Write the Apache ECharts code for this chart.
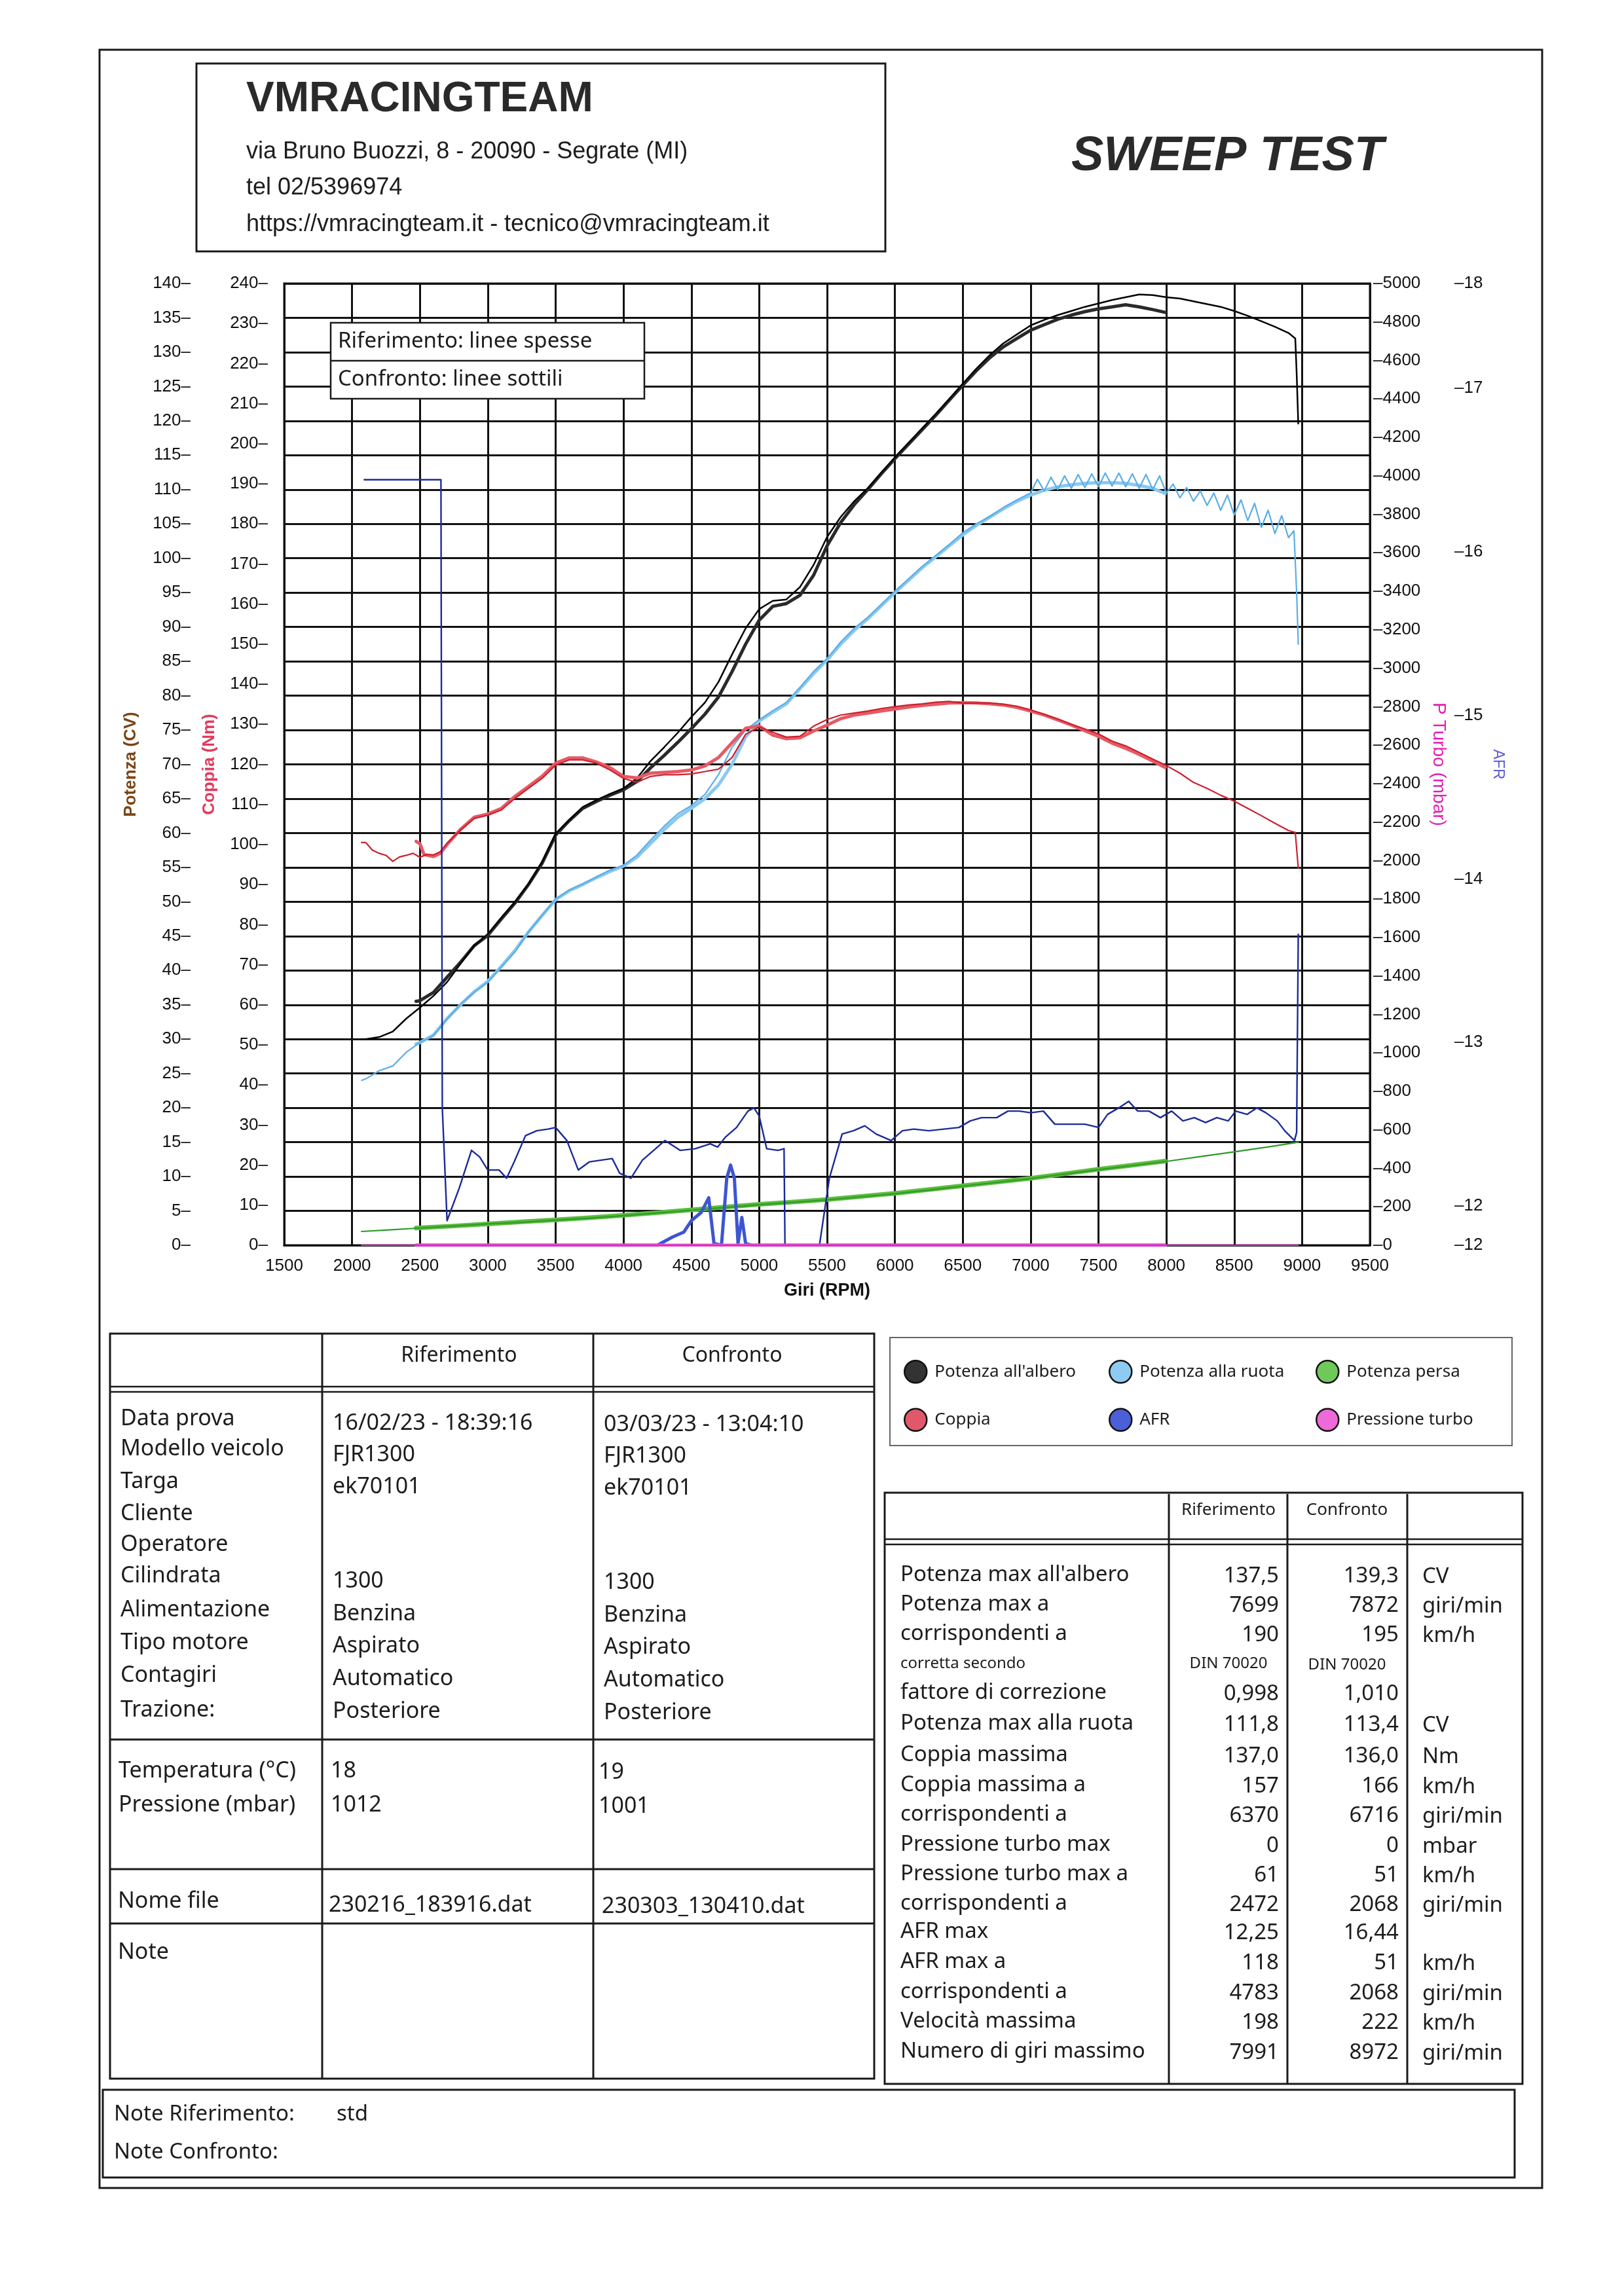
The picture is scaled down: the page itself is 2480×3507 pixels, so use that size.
<!DOCTYPE html>
<html><head><meta charset="utf-8">
<script src="https://cdn.jsdelivr.net/npm/echarts@6/dist/echarts.min.js"></script>
<style>html,body{margin:0;padding:0;background:#fff}#c{width:2480px;height:3507px}</style>
</head><body><div id="c"></div>
<script>
// ---------------- DATA ----------------
const rpmTicks = [1500,2000,2500,3000,3500,4000,4500,5000,5500,6000,6500,7000,7500,8000,8500,9000,9500];
const afrTickValues = [11.76,12,13,14,15,16,17,17.64];

// Potenza all'albero (CV)
const alberoConf = [[2070,30.0],[2100,30.0],[2200,30.3],[2300,31.1],[2400,33.0],[2500,34.6],[2600,36.3],[2700,38.3],[2800,41.0],[2900,43.6],[3000,45.3],[3100,47.7],[3200,50.0],[3300,52.6],[3400,55.8],[3500,59.9],[3600,61.9],[3700,63.8],[3800,64.8],[3900,65.7],[4000,66.5],[4100,68.0],[4200,70.5],[4300,72.5],[4400,74.6],[4500,76.9],[4600,79.0],[4700,82.0],[4800,86.0],[4900,89.8],[5000,92.6],[5100,93.8],[5200,94.0],[5300,95.8],[5400,99.0],[5500,103.1],[5600,106.0],[5700,108.3],[5800,110.2],[5900,112.5],[6000,114.7],[6100,116.8],[6200,118.9],[6300,121.0],[6400,123.2],[6500,125.4],[6600,127.6],[6700,129.6],[6800,131.3],[6900,132.6],[7000,133.9],[7100,134.7],[7200,135.4],[7300,136.0],[7400,136.6],[7500,137.1],[7600,137.6],[7700,138.0],[7800,138.4],[7900,138.3],[8000,138.0],[8100,137.8],[8200,137.4],[8300,137.0],[8400,136.6],[8500,136.0],[8600,135.3],[8700,134.5],[8800,133.7],[8900,132.8],[8950,132.0],[8960,127.0],[8972,119.6]];
const alberoRif = [[2472,35.5],[2500,35.6],[2600,36.8],[2700,39.0],[2800,41.2],[2900,43.6],[3000,45.1],[3100,47.5],[3200,49.8],[3300,52.5],[3400,55.6],[3500,59.7],[3600,61.8],[3700,63.6],[3800,64.6],[3900,65.5],[4000,66.3],[4100,67.5],[4200,69.5],[4300,71.3],[4400,73.2],[4500,75.2],[4600,77.3],[4700,79.8],[4800,83.5],[4900,87.5],[5000,91.0],[5100,93.0],[5200,93.4],[5300,94.6],[5400,97.5],[5500,101.8],[5600,105.2],[5700,107.8],[5800,110.0],[5900,112.3],[6000,114.5],[6100,116.6],[6200,118.7],[6300,120.8],[6400,123.0],[6500,125.2],[6600,127.3],[6700,129.2],[6800,130.8],[6900,132.0],[7000,133.2],[7100,134.0],[7200,134.8],[7300,135.4],[7400,135.9],[7500,136.3],[7600,136.6],[7700,136.9],[7800,136.6],[7900,136.2],[7991,135.8]];

// Potenza alla ruota (CV)
const ruotaConf = [[2070,24.0],[2100,24.2],[2200,25.4],[2300,26.1],[2400,28.1],[2500,29.5],[2600,30.5],[2700,32.9],[2800,35.1],[2900,36.8],[3000,38.3],[3100,40.5],[3200,42.7],[3300,45.6],[3400,48.0],[3500,50.4],[3600,51.7],[3700,52.6],[3800,53.6],[3900,54.6],[4000,55.3],[4100,56.8],[4200,59.0],[4300,61.0],[4400,62.8],[4500,64.0],[4600,65.6],[4700,68.5],[4800,72.5],[4900,75.0],[5000,76.5],[5100,77.8],[5200,79.0],[5300,81.2],[5400,83.5],[5500,85.4],[5600,87.8],[5700,89.8],[5800,91.4],[5900,93.3],[6000,95.2],[6100,97.0],[6200,98.8],[6300,100.4],[6400,102.0],[6500,103.7],[6600,105.0],[6700,106.1],[6800,107.4],[6900,108.5],[7000,109.5],[7050,111.5],[7100,109.8],[7150,111.8],[7200,110.0],[7250,112.0],[7300,110.2],[7350,112.2],[7400,110.3],[7450,112.3],[7500,110.4],[7550,112.4],[7600,110.5],[7650,112.4],[7700,110.4],[7750,112.3],[7800,110.2],[7850,112.2],[7900,110.0],[7950,112.0],[8000,109.5],[8050,110.8],[8100,108.8],[8150,110.3],[8200,108.3],[8250,109.8],[8300,107.7],[8350,109.5],[8400,107.0],[8450,109.2],[8500,106.3],[8550,108.5],[8600,105.5],[8650,108.0],[8700,104.5],[8750,107.0],[8800,103.6],[8850,106.2],[8900,103.0],[8940,104.0],[8960,95.0],[8972,87.5]];
const ruotaRif = [[2472,29.3],[2500,29.5],[2600,30.6],[2700,33.0],[2800,35.0],[2900,36.9],[3000,38.4],[3100,40.6],[3200,42.9],[3300,45.6],[3400,48.0],[3500,50.3],[3600,51.6],[3700,52.5],[3800,53.5],[3900,54.4],[4000,55.2],[4100,56.5],[4200,58.5],[4300,60.5],[4400,62.3],[4500,63.6],[4600,65.0],[4700,67.0],[4800,70.0],[4900,74.0],[5000,76.3],[5100,77.6],[5200,78.8],[5300,81.0],[5400,83.2],[5500,85.2],[5600,87.5],[5700,89.5],[5800,91.2],[5900,93.1],[6000,95.0],[6100,96.8],[6200,98.6],[6300,100.2],[6400,101.8],[6500,103.4],[6600,104.8],[6700,106.0],[6800,107.2],[6900,108.3],[7000,109.2],[7100,109.9],[7200,110.4],[7300,110.7],[7400,110.9],[7500,111.0],[7600,111.0],[7700,110.9],[7800,110.6],[7900,110.2],[7991,109.4]];

// Potenza persa (CV)
const persaConf = [[2070,2.0],[2250,2.2],[2500,2.5],[2750,2.8],[3000,3.1],[3250,3.35],[3500,3.65],[3750,3.95],[4000,4.3],[4250,4.7],[4500,5.1],[4750,5.5],[5000,5.9],[5250,6.25],[5500,6.6],[5750,7.05],[6000,7.5],[6250,8.05],[6500,8.6],[6750,9.15],[7000,9.7],[7250,10.35],[7500,11.0],[7750,11.6],[8000,12.2],[8250,12.9],[8500,13.6],[8750,14.3],[8972,15.0]];
const persaRif = [[2472,2.5],[2750,2.8],[3000,3.1],[3250,3.4],[3500,3.7],[3750,4.0],[4000,4.35],[4250,4.75],[4500,5.15],[4750,5.55],[5000,5.95],[5250,6.3],[5500,6.65],[5750,7.1],[6000,7.55],[6250,8.1],[6500,8.65],[6750,9.2],[7000,9.75],[7250,10.4],[7500,11.05],[7750,11.65],[7991,12.25]];

// Coppia (Nm)
const coppiaConf = [[2070,100.5],[2100,100.5],[2150,98.6],[2200,97.8],[2250,97.3],[2300,95.8],[2350,96.9],[2400,97.3],[2450,97.8],[2500,96.8],[2550,97.5],[2600,97.4],[2650,98.2],[2700,100.3],[2800,103.6],[2900,106.5],[3000,107.3],[3100,108.6],[3200,111.5],[3300,114.0],[3400,116.5],[3500,119.8],[3600,121.1],[3700,121.1],[3800,120.3],[3900,118.6],[4000,116.5],[4100,115.5],[4200,117.0],[4300,117.4],[4400,117.4],[4500,117.6],[4600,118.2],[4700,118.8],[4800,121.7],[4900,127.5],[5000,129.3],[5100,128.0],[5200,126.8],[5300,127.0],[5400,129.5],[5500,131.2],[5600,132.3],[5700,132.8],[5800,133.3],[5900,133.9],[6000,134.4],[6100,134.8],[6200,135.1],[6300,135.5],[6400,135.7],[6500,135.3],[6600,135.3],[6700,135.3],[6800,135.0],[6900,134.5],[7000,133.6],[7100,132.5],[7200,131.3],[7300,130.0],[7400,128.8],[7500,127.6],[7600,125.8],[7700,124.6],[7800,123.0],[7900,121.3],[8000,119.7],[8100,117.8],[8200,115.5],[8300,114.0],[8400,112.3],[8500,110.8],[8600,109.0],[8700,107.2],[8800,105.3],[8900,103.5],[8950,103.0],[8972,94.1]];
const coppiaRif = [[2472,100.8],[2500,100.2],[2530,97.5],[2600,97.0],[2650,97.8],[2700,100.0],[2800,103.8],[2900,106.8],[3000,107.6],[3100,109.0],[3200,112.0],[3300,114.5],[3400,117.0],[3500,120.3],[3600,121.6],[3700,121.6],[3800,120.6],[3900,119.2],[4000,117.0],[4100,116.6],[4200,117.8],[4300,118.0],[4400,118.2],[4500,118.6],[4600,119.6],[4700,121.7],[4800,125.4],[4900,129.0],[5000,129.6],[5100,127.3],[5200,126.4],[5300,126.6],[5400,128.3],[5500,129.8],[5600,131.4],[5700,132.3],[5800,132.8],[5900,133.3],[6000,133.8],[6100,134.3],[6200,134.7],[6300,135.0],[6400,135.3],[6500,135.4],[6600,135.3],[6700,135.1],[6800,134.8],[6900,134.2],[7000,133.3],[7100,132.3],[7200,131.1],[7300,129.8],[7400,128.4],[7500,127.0],[7600,125.3],[7700,124.0],[7800,122.5],[7900,120.8],[7991,119.2]];

// AFR
const afrConf = [[2090,16.44],[2655,16.44],[2665,12.6],[2700,11.91],[2790,12.11],[2880,12.34],[2940,12.30],[3000,12.22],[3083,12.22],[3139,12.17],[3195,12.27],[3278,12.43],[3361,12.46],[3444,12.47],[3500,12.48],[3583,12.40],[3667,12.22],[3750,12.27],[3833,12.28],[3917,12.29],[3972,12.20],[4055,12.17],[4139,12.28],[4250,12.36],[4305,12.40],[4417,12.34],[4528,12.35],[4639,12.38],[4694,12.36],[4750,12.42],[4833,12.48],[4917,12.58],[4961,12.60],[5000,12.55],[5055,12.35],[5139,12.34],[5183,12.35],[5190,11.76],[5444,11.76],[5517,12.17],[5611,12.44],[5694,12.46],[5778,12.49],[5861,12.44],[5972,12.40],[6055,12.46],[6139,12.47],[6250,12.46],[6361,12.47],[6472,12.48],[6555,12.52],[6639,12.54],[6750,12.54],[6833,12.58],[6917,12.58],[7000,12.57],[7094,12.58],[7178,12.50],[7289,12.50],[7400,12.50],[7500,12.48],[7567,12.56],[7650,12.60],[7722,12.64],[7789,12.58],[7872,12.58],[7956,12.54],[8039,12.58],[8122,12.52],[8206,12.54],[8289,12.51],[8372,12.54],[8456,12.52],[8511,12.58],[8594,12.56],[8667,12.60],[8733,12.57],[8817,12.52],[8872,12.46],[8944,12.40],[8960,12.45],[8972,13.66]];
const afrRif = [[2472,11.76],[4250,11.76],[4361,11.81],[4444,11.84],[4500,11.91],[4572,11.96],[4628,12.05],[4667,11.77],[4722,11.76],[4761,12.17],[4789,12.25],[4817,12.17],[4844,11.77],[4872,11.93],[4900,11.77],[4944,11.76],[7991,11.76]];

// Pressione turbo (mbar)
const turboConf = [[2070,0],[8972,0]];
const turboRif = [[2472,0],[7991,0]];

// Tables
const infoLabels = ['Data prova','Modello veicolo','Targa','Cliente','Operatore','Cilindrata','Alimentazione','Tipo motore','Contagiri','Trazione:'];
const infoRif = ['16/02/23 - 18:39:16','FJR1300','ek70101','','','1300','Benzina','Aspirato','Automatico','Posteriore'];
const infoConf = ['03/03/23 - 13:04:10','FJR1300','ek70101','','','1300','Benzina','Aspirato','Automatico','Posteriore'];
const envLabels = ['Temperatura (°C)','Pressione (mbar)'];
const envRif = ['18','1012'];
const envConf = ['19','1001'];
const fileRif = '230216_183916.dat';
const fileConf = '230303_130410.dat';
const statLabels = ["Potenza max all'albero","Potenza max a","corrispondenti a","corretta secondo","fattore di correzione","Potenza max alla ruota","Coppia massima","Coppia massima a","corrispondenti a","Pressione turbo max","Pressione turbo max a","corrispondenti a","AFR max","AFR max a","corrispondenti a","Velocità massima","Numero di giri massimo"];
const statRif = ['137,5','7699','190','DIN 70020','0,998','111,8','137,0','157','6370','0','61','2472','12,25','118','4783','198','7991'];
const statConf = ['139,3','7872','195','DIN 70020','1,010','113,4','136,0','166','6716','0','51','2068','16,44','51','2068','222','8972'];
const statUnits = ['CV','giri/min','km/h','','','CV','Nm','km/h','giri/min','mbar','km/h','giri/min','','km/h','giri/min','km/h','giri/min'];

// ---------------- LAYOUT ----------------
const G = {left:434, top:433, width:1658, height:1469};
const TXT = '#1c1c1c';
const ARIAL = '"Liberation Sans", Arial, sans-serif';
const NOTO = '"Noto Sans", sans-serif';
const W = [];
function txt(t, x, y, size, o) {
  o = o || {};
  const font = [o.style||'', o.weight||'normal', size+'px', o.family||NOTO].join(' ').trim();
  W.push({type:'text', x:x, y:y, z:o.z||20, silent:true,
    style:{text:t, font:font, fill:o.color||TXT, textAlign:o.align||'left', textVerticalAlign:'middle', align:o.align||'left', verticalAlign:'middle'}});
}
function rect(x,y,w,h,lw,o) { o=o||{}; W.push({type:'rect', z:o.z||10, silent:true, shape:{x:x,y:y,width:w,height:h}, style:{fill:o.fill||'none', stroke:o.stroke||'#1a1a1a', lineWidth:lw}}); }
function line(x1,y1,x2,y2,lw,o) { o=o||{}; W.push({type:'line', z:o.z||10, silent:true, shape:{x1:x1,y1:y1,x2:x2,y2:y2}, style:{stroke:o.stroke||'#1a1a1a', lineWidth:lw}}); }

// page frame
rect(152, 76, 2203, 3266, 3);
// header
rect(300, 97, 1052, 287, 3);
txt('VMRACINGTEAM', 376, 152, 64, {weight:'bold', family:ARIAL, color:'#2a2a2a'});
txt('via Bruno Buozzi, 8 - 20090 - Segrate (MI)', 376, 232, 36, {family:ARIAL});
txt('tel 02/5396974', 376, 287, 36, {family:ARIAL});
txt('https://vmracingteam.it - tecnico@vmracingteam.it', 376, 343, 36, {family:ARIAL});
txt('SWEEP TEST', 1636, 240, 74, {weight:'bold', style:'italic', family:ARIAL, color:'#2a2a2a'});

// legend box inside chart
rect(505, 493, 479, 116, 2.5, {fill:'#fff', z:50});
line(505, 551, 984, 551, 2.5, {z:51});
txt('Riferimento: linee spesse', 516, 522, 33, {z:52});
txt('Confronto: linee sottili', 516, 580, 33, {z:52});

// left table
rect(168, 2037, 1167, 1138, 3);
line(492, 2037, 492, 3175, 3);
line(906, 2037, 906, 3175, 3);
line(168, 2118, 1335, 2118, 2.5);
line(168, 2126, 1335, 2126, 2.5);
line(168, 2657, 1335, 2657, 3);
line(168, 2855, 1335, 2855, 3);
line(168, 2938, 1335, 2938, 3);
txt('Riferimento', 701, 2071, 32, {align:'center'});
txt('Confronto', 1118, 2071, 32, {align:'center'});
const infoY = [2167,2213,2263,2312,2359,2407,2459,2509,2559,2612];
const infoVY = [2174,2222,2271,2312,2359,2415,2465,2514,2564,2614];
infoLabels.forEach((l,i)=>{
  txt(l, 184, infoY[i], 34);
  if (infoRif[i]) txt(infoRif[i], 508, infoVY[i], 34);
  if (infoConf[i]) txt(infoConf[i], 922, infoVY[i]+2, 34);
});
const envY = [2705, 2757];
envLabels.forEach((l,i)=>{
  txt(l, 181, envY[i], 34);
  txt(envRif[i], 505, envY[i], 34);
  txt(envConf[i], 914, envY[i]+2, 34);
});
txt('Nome file', 180, 2904, 34);
txt(fileRif, 502, 2910, 34);
txt(fileConf, 919, 2912, 34);
txt('Note', 180, 2982, 34);

// legend frame (bottom right)
rect(1359, 2043, 950, 165, 2, {stroke:'#666'});

// stats table
rect(1351, 2280, 974, 903, 3);
line(1785, 2282, 1785, 3183, 3);
line(1966, 2282, 1966, 3183, 3);
line(2149, 2282, 2149, 3183, 3);
line(1351, 2351, 2325, 2351, 2.5);
line(1351, 2359, 2325, 2359, 2.5);
txt('Riferimento', 1876, 2307, 26, {align:'center'});
txt('Confronto', 2057, 2307, 26, {align:'center'});
const statY = [2406,2451,2496,2541,2586,2633,2681,2727,2772,2818,2863,2908,2951,2997,3043,3088,3134];
statLabels.forEach((l,i)=>{
  const small = (i===3);
  txt(l, 1375, statY[i], small?24:33);
  if (small) {
    txt(statRif[i], 1876, statY[i], 24, {align:'center'});
    txt(statConf[i], 2057, statY[i]+2, 24, {align:'center'});
  } else {
    txt(statRif[i], 1953, statY[i]+2, 33, {align:'right'});
    txt(statConf[i], 2136, statY[i]+2, 33, {align:'right'});
  }
  if (statUnits[i]) txt(statUnits[i], 2172, statY[i]+3, 33);
});

// notes box
rect(157, 3192, 2156, 134, 3);
txt('Note Riferimento:', 174, 3230, 33);
txt('std', 514, 3230, 33);
txt('Note Confronto:', 174, 3288, 33);

// ---------------- CHART ----------------
function S(name, yIdx, color, width, data, z) {
  return {type:'line', name:name, yAxisIndex:yIdx, data:data, symbol:'none', showSymbol:false,
    lineStyle:{color:color, width:width, join:'round', cap:'round'}, itemStyle:{color:color}, z:z, animation:false, silent:true};
}
const series = [
  S('Potenza persa', 0, '#5cbd3e', 7, persaRif, 3),
  S('Potenza persa', 0, '#2f9a2a', 2.2, persaConf, 4),
  S('Potenza alla ruota', 0, '#8ac8f0', 5, ruotaRif, 5),
  S('Potenza alla ruota', 0, '#5aaee6', 2.2, ruotaConf, 6),
  S("Potenza all'albero", 0, '#2a2a2a', 5, alberoRif, 7),
  S("Potenza all'albero", 0, '#000000', 2.5, alberoConf, 8),
  S('Coppia', 1, '#e65a64', 5, coppiaRif, 9),
  S('Coppia', 1, '#cc1f2e', 2.2, coppiaConf, 10),
  S('AFR', 3, '#3d55d2', 5, afrRif, 11),
  S('AFR', 3, '#1c2a98', 2.4, afrConf, 12),
  S('Pressione turbo', 2, '#e85ad2', 5, turboRif, 13),
  S('Pressione turbo', 2, '#d42cb8', 2, turboConf, 14)
];

const tickLab = {fontFamily:ARIAL, fontSize:26, color:'#111'};
const legendBase = {orient:'vertical', icon:'circle', itemWidth:34, itemHeight:34, itemGap:37, padding:0, selectedMode:false,
  itemStyle:{borderColor:'#111', borderWidth:2.5},
  textStyle:{fontFamily:NOTO, fontSize:26, color:'#1c1c1c', padding:[0,0,0,7]}};
const LC = {"Potenza all'albero":'#333333','Coppia':'#e0586a','Potenza alla ruota':'#8ecbf2','AFR':'#4b5fd6','Potenza persa':'#6fc95a','Pressione turbo':'#ee6ad8'};
function legendCol(names, left) {
  return Object.assign({}, legendBase, {left:left, top:2077, data:names.map(n=>({name:n, itemStyle:{color:LC[n]}}))});
}

const option = {
  animation:false,
  backgroundColor:'#fff',
  textStyle:{fontFamily:ARIAL},
  grid:{left:G.left, top:G.top, width:G.width, height:G.height, show:true, borderColor:'#111', borderWidth:3, backgroundColor:'transparent'},
  legend:[
    legendCol(["Potenza all'albero",'Coppia'], 1380),
    legendCol(['Potenza alla ruota','AFR'], 1693),
    legendCol(['Potenza persa','Pressione turbo'], 2009)
  ],
  xAxis:{type:'value', min:rpmTicks[0], max:rpmTicks[rpmTicks.length-1], interval:500,
    axisLine:{show:true, lineStyle:{color:'#111', width:3}}, axisTick:{show:false},
    splitLine:{show:true, lineStyle:{color:'#111', width:3}},
    axisLabel:Object.assign({margin:19, showMinLabel:true, showMaxLabel:true, formatter:v=>String(v)}, tickLab),
    name:'Giri (RPM)', nameLocation:'middle', nameGap:56,
    nameTextStyle:{fontFamily:ARIAL, fontSize:27, fontWeight:'bold', color:'#111'}},
  yAxis:[
    {type:'value', min:0, max:140, interval:5, position:'left',
      axisLine:{show:true, lineStyle:{color:'#111', width:3}}, axisTick:{show:false},
      splitLine:{show:true, lineStyle:{color:'#111', width:3}},
      axisLabel:Object.assign({margin:143, formatter:v=>v+'–', showMinLabel:true, showMaxLabel:true}, tickLab),
      name:'Potenza (CV)', nameLocation:'middle', nameRotate:90, nameGap:221,
      nameTextStyle:{fontFamily:ARIAL, fontSize:26, fontWeight:'bold', color:'#7b4416'}},
    {type:'value', min:0, max:240, interval:10, position:'left',
      axisLine:{show:false}, axisTick:{show:false}, splitLine:{show:false},
      axisLabel:Object.assign({margin:25, formatter:v=>v+'–', showMinLabel:true, showMaxLabel:true}, tickLab),
      name:'Coppia (Nm)', nameLocation:'middle', nameRotate:90, nameGap:101,
      nameTextStyle:{fontFamily:ARIAL, fontSize:26, fontWeight:'bold', color:'#e23a5c'}},
    {type:'value', min:0, max:5000, interval:200, position:'right',
      axisLine:{show:true, lineStyle:{color:'#111', width:3}}, axisTick:{show:false}, splitLine:{show:false},
      axisLabel:Object.assign({margin:5, formatter:v=>'–'+v, showMinLabel:true, showMaxLabel:true}, tickLab),
      name:'P Turbo (mbar)', nameLocation:'middle', nameRotate:-90, nameGap:91,
      nameTextStyle:{fontFamily:ARIAL, fontSize:28, color:'#e01fb4'}},
    {type:'value', min:afrTickValues[0], max:afrTickValues[afrTickValues.length-1], position:'right',
      axisLine:{show:false}, axisTick:{show:false}, splitLine:{show:false},
      axisLabel:Object.assign({margin:129, customValues:afrTickValues, formatter:v=>'–'+Math.round(v), showMinLabel:true, showMaxLabel:true}, tickLab),
      name:'AFR', nameLocation:'middle', nameRotate:-90, nameGap:184,
      nameTextStyle:{fontFamily:ARIAL, fontSize:23, color:'#5a5ad8'}}
  ],
  graphic:{elements:W},
  series:series
};
const chart = echarts.init(document.getElementById('c'), null, {renderer:'canvas', width:2480, height:3507});
chart.setOption(option);
</script></body></html>
